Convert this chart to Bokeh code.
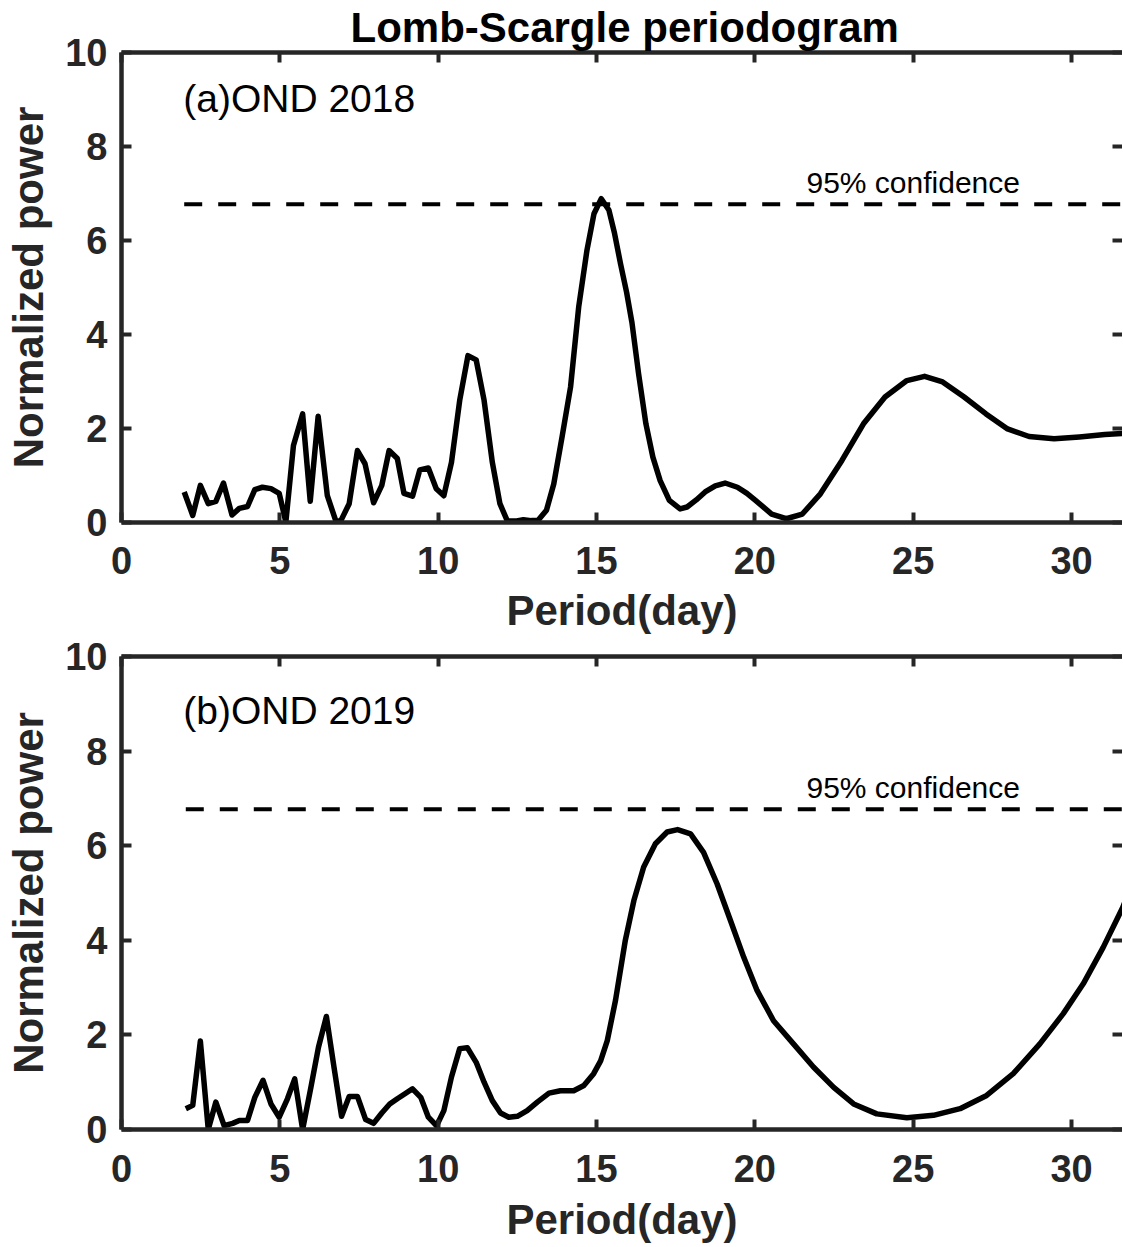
from bokeh.plotting import figure
from bokeh.models import Range1d, FixedTicker, LinearAxis, Label, Title
from bokeh.layouts import column
from bokeh.embed import file_html
from bokeh.resources import INLINE

# ---------------- data ----------------
periods_a = [1.98, 2.25, 2.49, 2.74, 2.98, 3.22, 3.49, 3.72, 3.98, 4.21,
             4.45, 4.72, 4.98, 5.19, 5.43, 5.72, 5.96, 6.21, 6.50, 6.77,
             6.92, 7.19, 7.45, 7.69, 7.96, 8.22, 8.45, 8.71, 8.92, 9.19,
             9.42, 9.69, 9.94, 10.18, 10.42, 10.68, 10.94, 11.20, 11.45, 11.71,
             11.95, 12.18, 12.44, 12.69, 12.94, 13.15, 13.42, 13.65, 13.92, 14.18,
             14.44, 14.70, 14.92, 15.15, 15.39, 15.57, 15.76, 15.95, 16.12, 16.33,
             16.56, 16.78, 17.01, 17.30, 17.64, 17.86, 18.15, 18.43, 18.75, 19.06,
             19.45, 19.75, 20.02, 20.53, 20.99, 21.50, 22.07, 22.75, 23.43, 24.11,
             24.80, 25.36, 25.93, 26.61, 27.30, 27.98, 28.66, 29.45, 30.25, 31.05,
             31.82]
power_a = [0.65, 0.15, 0.79, 0.40, 0.45, 0.84, 0.16, 0.30, 0.34, 0.70,
           0.75, 0.72, 0.62, 0.01, 1.64, 2.31, 0.45, 2.26, 0.57, 0.03,
           0.03, 0.40, 1.53, 1.25, 0.42, 0.79, 1.53, 1.36, 0.62, 0.56,
           1.12, 1.16, 0.72, 0.57, 1.28, 2.60, 3.55, 3.46, 2.60, 1.28,
           0.40, 0.04, 0.03, 0.06, 0.04, 0.04, 0.26, 0.82, 1.85, 2.88,
           4.60, 5.80, 6.57, 6.89, 6.65, 6.15, 5.50, 4.90, 4.25, 3.16,
           2.10, 1.39, 0.89, 0.47, 0.29, 0.33, 0.48, 0.65, 0.78, 0.84,
           0.75, 0.62, 0.47, 0.18, 0.08, 0.18, 0.61, 1.32, 2.10, 2.67,
           3.02, 3.11, 2.99, 2.67, 2.31, 1.99, 1.83, 1.78, 1.82, 1.87,
           1.90]

periods_b = [2.03, 2.25, 2.49, 2.74, 2.98, 3.24, 3.51, 3.72, 3.98, 4.21,
             4.47, 4.72, 4.98, 5.24, 5.47, 5.72, 5.98, 6.22, 6.47, 6.71,
             6.95, 7.19, 7.45, 7.71, 7.96, 8.22, 8.47, 8.71, 8.94, 9.19,
             9.45, 9.69, 9.95, 10.18, 10.42, 10.68, 10.92, 11.20, 11.45, 11.71,
             11.97, 12.23, 12.50, 12.81, 13.13, 13.50, 13.86, 14.28, 14.60, 14.91,
             15.13, 15.34, 15.60, 15.91, 16.18, 16.49, 16.86, 17.23, 17.56, 17.97,
             18.38, 18.81, 19.23, 19.65, 20.07, 20.59, 21.22, 21.85, 22.49, 23.12,
             23.85, 24.80, 25.64, 26.48, 27.32, 28.16, 29.00, 29.74, 30.37, 31.00,
             31.62, 31.82]
power_b = [0.44, 0.51, 1.87, 0.00, 0.58, 0.08, 0.13, 0.19, 0.19, 0.68,
           1.04, 0.54, 0.26, 0.65, 1.07, 0.00, 0.89, 1.74, 2.39, 1.32,
           0.28, 0.70, 0.70, 0.21, 0.13, 0.35, 0.54, 0.65, 0.75, 0.86,
           0.68, 0.26, 0.08, 0.40, 1.11, 1.71, 1.73, 1.42, 1.00, 0.61,
           0.35, 0.26, 0.28, 0.40, 0.58, 0.77, 0.82, 0.82, 0.93, 1.18,
           1.45, 1.88, 2.73, 4.00, 4.84, 5.55, 6.04, 6.29, 6.34, 6.25,
           5.86, 5.19, 4.42, 3.64, 2.94, 2.30, 1.81, 1.32, 0.89, 0.54,
           0.33, 0.25, 0.30, 0.44, 0.72, 1.18, 1.81, 2.45, 3.08, 3.85,
           4.70, 5.05]

confidence_95 = 6.77
panel_labels = ["(a)OND 2018", "(b)OND 2019"]
x_ticks = [0, 5, 10, 15, 20, 25, 30]
y_ticks = [0, 2, 4, 6, 8, 10]
X_MAX = 31.61
Y_MAX = 10

AX = "#262626"
FONT = "Liberation Sans"


def make_panel(periods, power, label, label_y, frame_h, top_border, bottom_border,
               with_title, tick_standoff, label_standoff):
    p = figure(frame_width=1001, frame_height=frame_h,
               x_range=Range1d(0, X_MAX), y_range=Range1d(0, Y_MAX),
               output_backend="svg", toolbar_location=None,
               x_axis_location=None, y_axis_location=None,
               min_border_left=121, min_border_right=0,
               min_border_top=top_border, min_border_bottom=bottom_border)
    p.outline_line_color = None
    p.background_fill_color = "white"
    p.border_fill_color = "white"
    p.xgrid.visible = False
    p.ygrid.visible = False

    def style(ax, ticks, labels=True):
        ax.ticker = FixedTicker(ticks=ticks)
        ax.axis_line_color = AX
        ax.axis_line_width = 4.5
        ax.major_tick_line_color = AX
        ax.major_tick_line_width = 4
        ax.major_tick_in = 10
        ax.major_tick_out = 0
        ax.minor_tick_line_color = None
        if labels:
            ax.major_label_text_font = FONT
            ax.major_label_text_font_style = "bold"
            ax.major_label_text_font_size = "38px"
            ax.major_label_text_color = AX
        else:
            ax.major_label_text_font_size = "0px"
            ax.major_label_standoff = 0
        return ax

    bottom = style(LinearAxis(), x_ticks)
    bottom.axis_label = "Period(day)"
    bottom.axis_label_text_font = FONT
    bottom.axis_label_text_font_style = "bold"
    bottom.axis_label_text_font_size = "42px"
    bottom.axis_label_text_color = AX
    bottom.major_label_standoff = tick_standoff
    bottom.axis_label_standoff = label_standoff
    p.add_layout(bottom, "below")

    left = style(LinearAxis(), y_ticks)
    left.axis_label = "Normalized power"
    left.axis_label_text_font = FONT
    left.axis_label_text_font_style = "bold"
    left.axis_label_text_font_size = "42px"
    left.axis_label_text_color = AX
    left.major_label_standoff = 14
    left.axis_label_standoff = 10
    p.add_layout(left, "left")

    top = style(LinearAxis(), x_ticks, labels=False)
    p.add_layout(top, "above")
    right = style(LinearAxis(), y_ticks, labels=False)
    right.axis_line_color = None
    p.add_layout(right, "right")

    if with_title:
        t = Title(text="Lomb-Scargle periodogram", align="left",
                  text_font=FONT, text_font_style="bold",
                  text_font_size="42px", text_color="black",
                  standoff=3, offset=229)
        p.add_layout(t, "above")

    # 95% confidence level
    p.line([periods[0], X_MAX], [confidence_95, confidence_95],
           line_color="black", line_width=4, line_dash="18 16")
    p.add_layout(Label(x=21.63, y=7.24, text="95% confidence",
                       text_font=FONT, text_font_size="30px",
                       text_color="black", text_baseline="middle"))
    # periodogram
    p.line(periods, power, line_color="black", line_width=5.5,
           line_join="round")
    p.add_layout(Label(x=1.95, y=label_y, text=label, text_font=FONT,
                       text_font_size="39px", text_color="black",
                       text_baseline="middle"))
    return p


p1 = make_panel(periods_a, power_a, panel_labels[0], 9.03, 470, 44, 114,
                True, 24, 10)
p2 = make_panel(periods_b, power_b, panel_labels[1], 8.86, 473, 20, 116,
                False, 25, 11)

layout = column(p1, p2, spacing=0)
open("out.html", "w").write(file_html(layout, INLINE))
